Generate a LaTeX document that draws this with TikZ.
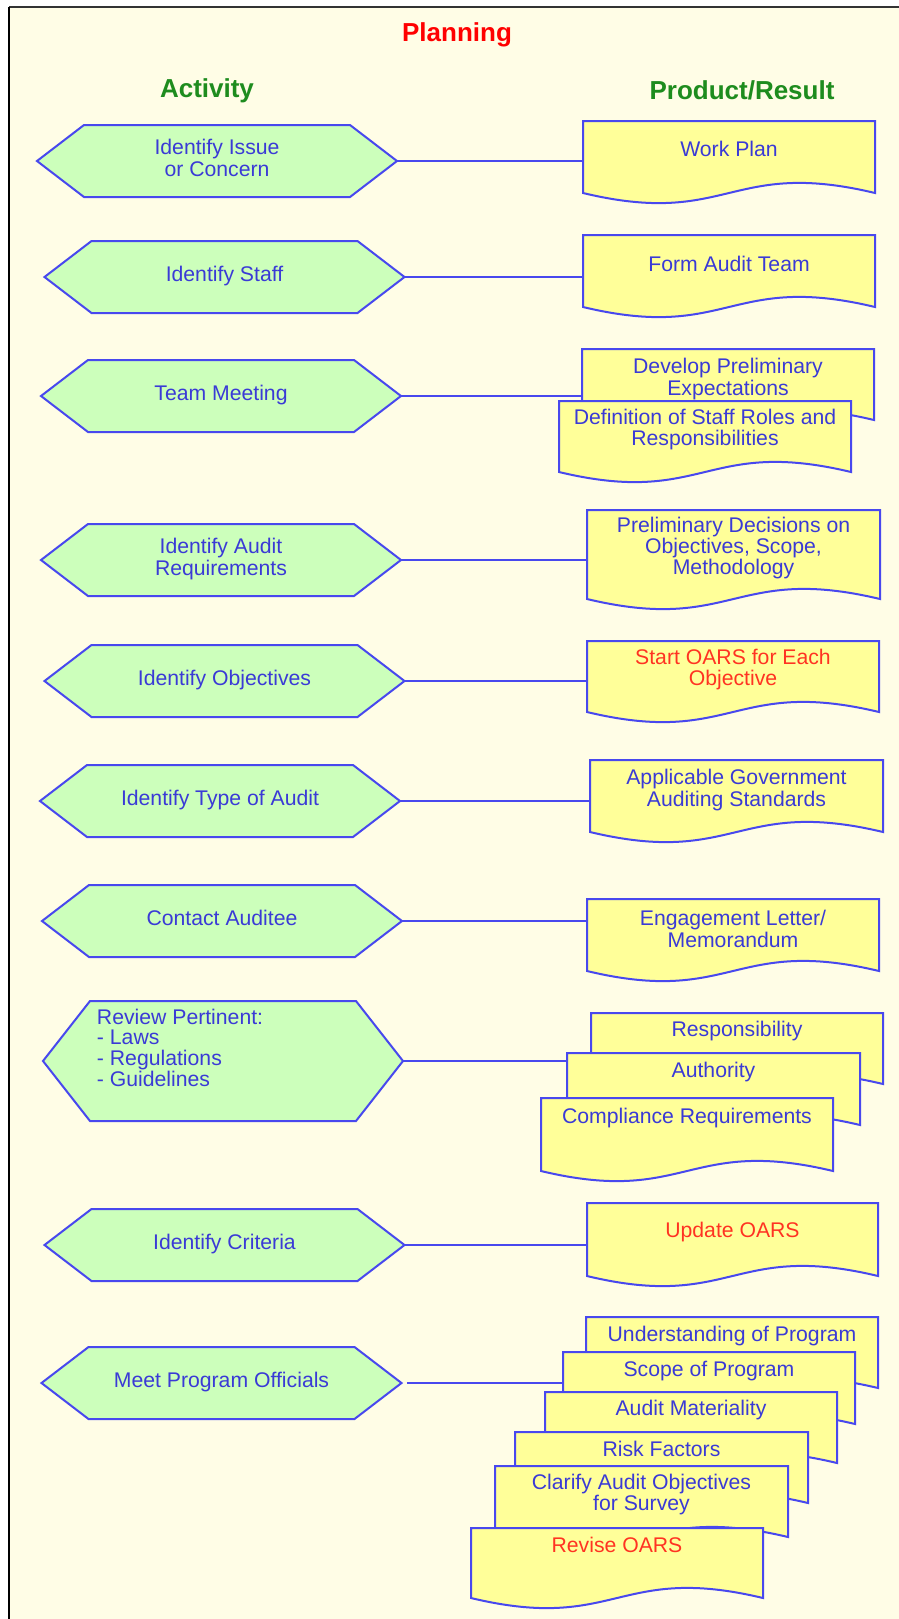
\documentclass[tikz,border=0pt]{standalone}
\usepackage{fontspec}
\setmainfont{Liberation Sans}
\usetikzlibrary{calc}
\definecolor{bgcream}{HTML}{FFFDE6}
\definecolor{hexfill}{HTML}{CCFFBB}
\definecolor{docfill}{HTML}{FFFF99}
\definecolor{outl}{HTML}{4848EE}
\definecolor{txtblue}{HTML}{3A3AD6}
\definecolor{txtred}{HTML}{FF3322}
\definecolor{hdgreen}{HTML}{1E8C1E}
\tikzset{
  hexshape/.style={fill=hexfill, draw=outl, line width=1pt},
  docshape/.style={fill=docfill, draw=outl, line width=1pt},
  bodyfont/.style={font=\fontsize{10.6pt}{10.7pt}\selectfont},
  hextext/.style={bodyfont, text=txtblue, align=center, inner sep=0pt, minimum width=180pt, minimum height=36pt},
  doctext/.style={bodyfont, text=txtblue, align=center, inner sep=0pt},
  redtext/.style={text=txtred},
  heading/.style={font=\fontsize{13pt}{15pt}\selectfont\bfseries, anchor=base, inner sep=0pt},
  link/.style={draw=outl, line width=0.9pt},
}
% hexagon: name, cx, cy, text
\newcommand\hexa[4]{%
  \filldraw[hexshape] (#2-180,#3) -- (#2-133,#3-36) -- (#2+133,#3-36) -- (#2+180,#3)
     -- (#2+133,#3+36) -- (#2-133,#3+36) -- cycle;
  \node[hextext] (#1) at (#2,#3) {\raisebox{1.2pt}{\begin{tabular}{@{}c@{}}#4\end{tabular}}};}
% document: [opts], name, L, T, W, H, text-y, text
\newcommand\docu[8][]{%
  \filldraw[docshape] (#3,#4) -- (#3+#5,#4) -- (#3+#5,#4+#6)
     .. controls (#3+#5/2,#4+#6-35) and (#3+#5/2,#4+#6+35) .. (#3,#4+#6) -- cycle;
  \node[doctext, minimum width=#5*0.5pt, #1] (#2) at (#3+#5/2,#7) {#8};}
\begin{document}
\begin{tikzpicture}[x=0.5pt, y=-0.5pt]
\useasboundingbox (0,0) rectangle (899,1619);
\fill[white] (0,0) rectangle (899,1619);
\fill[bgcream] (9,7) rectangle (899,1619);
\draw[black!80, line width=1pt] (9,7) -- (899,7);
\draw[black, line width=1.3pt] (9,1619) -- (9,7);

\node[heading, text=red] (plan) at (457,41) {Planning};
\node[heading, text=hdgreen] (act) at (207,97) {Activity};
\node[heading, text=hdgreen] (prod) at (742,99) {Product/Result};

% activities
\hexa{h1}{217}{161}{Identify Issue\\or Concern}
\hexa{h2}{224.5}{277}{Identify Staff}
\hexa{h3}{221}{396}{Team Meeting}
\hexa{h4}{221}{560}{Identify Audit\\Requirements}
\hexa{h5}{224.5}{681}{Identify Objectives}
\hexa{h6}{220}{801}{Identify Type of Audit}
\hexa{h7}{222}{921}{Contact Auditee}
\filldraw[hexshape] (43,1061) -- (90,1001) -- (356,1001) -- (403,1061)
   -- (356,1121) -- (90,1121) -- cycle;
\node[bodyfont, text=txtblue, inner sep=0pt, minimum width=180pt, minimum height=60pt] (h8) at (223,1061)
  {\parbox[c][60pt][t]{180pt}{\fontsize{10.6pt}{10.3pt}\selectfont\raggedright\leftskip=27pt
   \vspace*{4pt}Review Pertinent:\\- Laws\\- Regulations\\- Guidelines}};
\hexa{h9}{224.5}{1245}{Identify Criteria}
\hexa{h10}{221.5}{1383}{Meet Program Officials}

% products
\docu{d1}{583}{121}{292}{72}{149}{Work Plan}
\docu{d2}{583}{235}{292}{72}{264}{Form Audit Team}
\docu{d3a}{582}{349}{292}{71}{379}{Develop Preliminary\\Expectations}
\docu{d3b}{559}{401}{292}{71}{429.5}{Definition of Staff Roles and\\Responsibilities}
\docu{d4}{587}{510}{293}{89}{548}{Preliminary Decisions on\\Objectives, Scope,\\Methodology}
\docu[redtext]{d5}{587}{641}{292}{71}{669.5}{Start OARS for Each\\Objective}
\docu{d6}{590}{760}{293}{72}{790}{Applicable Government\\Auditing Standards}
\docu{d7}{587}{899}{292}{72}{929}{Engagement Letter/\\Memorandum}
\docu{d8a}{591}{1013}{292}{71}{1031}{Responsibility}
\docu{d8b}{567}{1053}{293}{72}{1072}{Authority}
\docu{d8c}{541}{1098}{292}{73}{1118}{Compliance Requirements}
\docu[redtext]{d9}{587}{1203}{291}{73}{1232}{Update OARS}
\docu{d10a}{586}{1317}{292}{71}{1336}{Understanding of Program}
\docu{d10b}{563}{1352}{292}{72}{1371}{Scope of Program}
\docu{d10c}{545}{1392}{292}{71}{1410}{Audit Materiality}
\docu{d10d}{515}{1432}{293}{71}{1449}{Risk Factors}
\docu{d10e}{495}{1466}{293}{71}{1494.5}{Clarify Audit Objectives\\for Survey}
\docu[redtext]{d10f}{471}{1528}{292}{70}{1545}{Revise OARS}

% connectors
\draw[link] (h1.east) -- (h1.east -| d1.west);
\draw[link] (h2.east) -- (h2.east -| d2.west);
\draw[link] (h3.east) -- (h3.east -| d3a.west);
\draw[link] (h4.east) -- (h4.east -| d4.west);
\draw[link] (h5.east) -- (h5.east -| d5.west);
\draw[link] (h6.east) -- (h6.east -| d6.west);
\draw[link] (h7.east) -- (h7.east -| d7.west);
\draw[link] (h8.east) -- (h8.east -| d8b.west);
\draw[link] (h9.east) -- (h9.east -| d9.west);
\draw[link, shorten <=2.5pt] (h10.east) -- (h10.east -| d10b.west);
\end{tikzpicture}
\end{document}
